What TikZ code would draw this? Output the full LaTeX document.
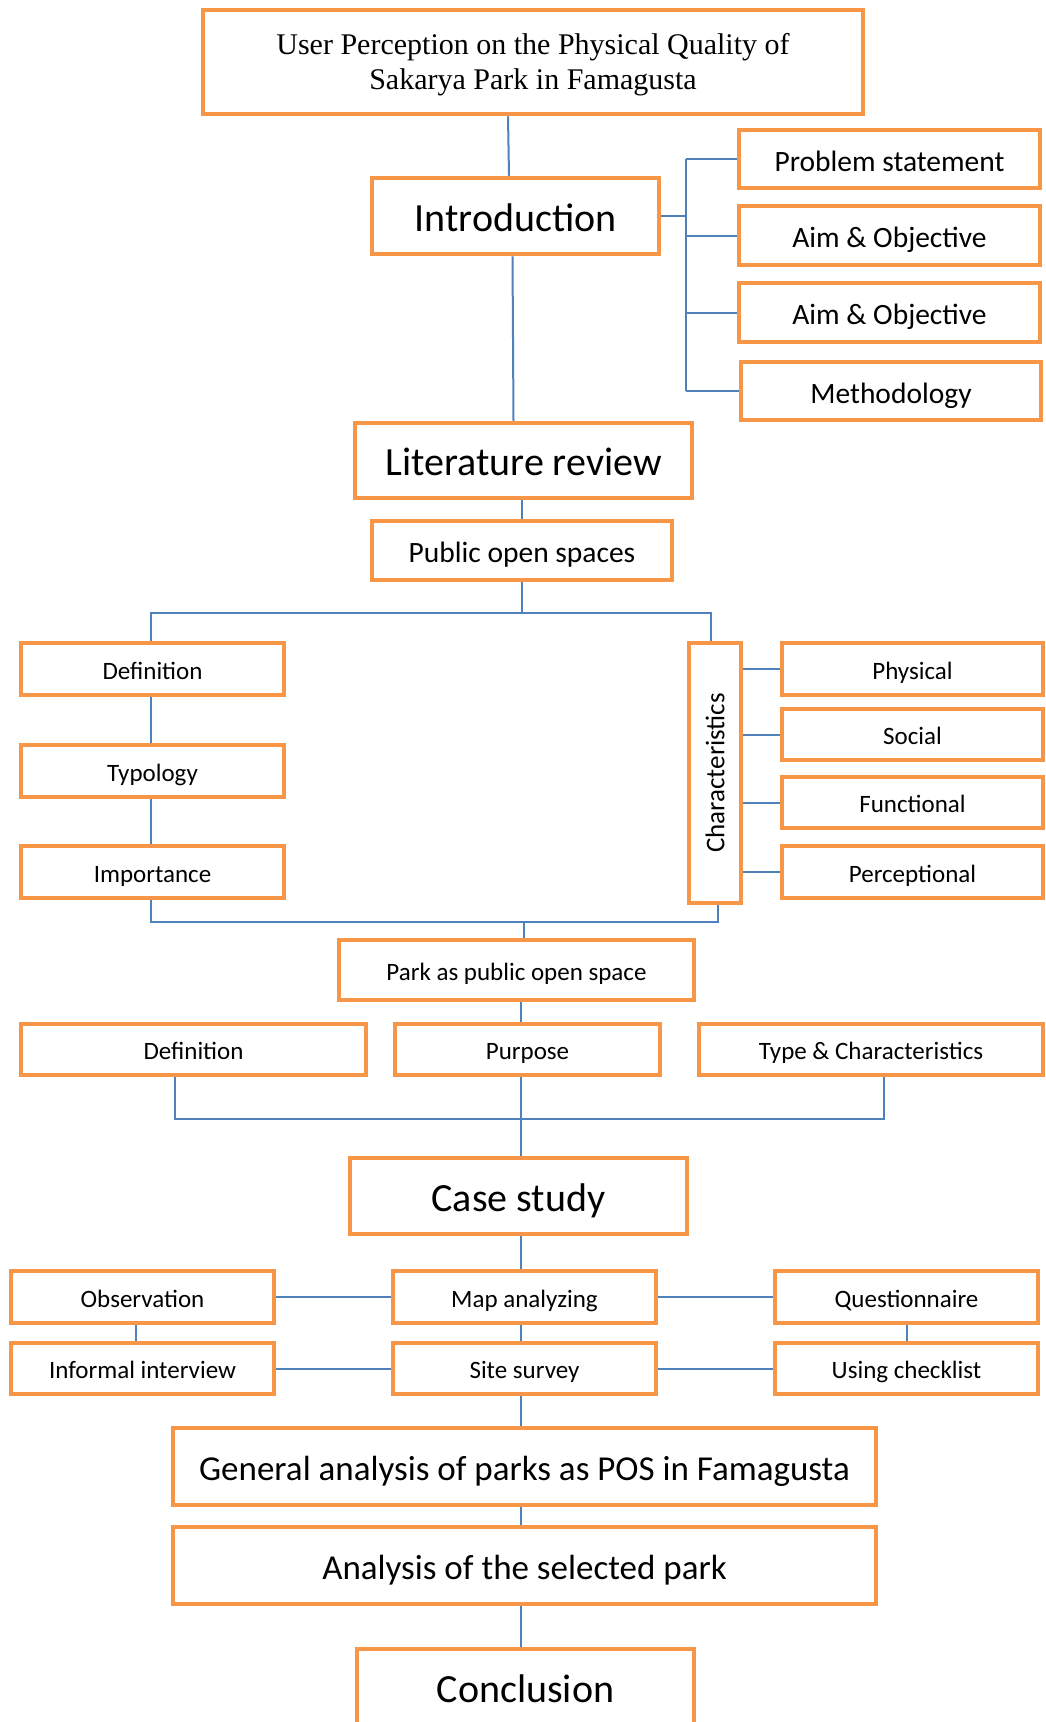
\documentclass[tikz,border=0pt]{standalone}
\usepackage{fontspec}
\setmainfont{Carlito}
\newfontfamily\serifrm{Liberation Serif}
\definecolor{boxorange}{HTML}{F79646}
\definecolor{linkblue}{HTML}{4F81BD}
\tikzset{
  box/.style={draw=boxorange, line width=4.5pt, fill=white, inner sep=0pt,
              align=center, rectangle, text depth=0pt},
  link/.style={draw=linkblue, line width=2pt},
  small/.style={text height=20.5pt, font=\fontsize{25}{30}\selectfont},
  medium/.style={text height=24pt, font=\fontsize{29.5}{35}\selectfont},
  mlarge/.style={text height=27.5pt, font=\fontsize{35}{42}\selectfont},
  large/.style={text height=30.5pt, font=\fontsize{40}{48}\selectfont},
}
\begin{document}
\begin{tikzpicture}[x=1pt,y=-1pt]
\useasboundingbox (0,0) rectangle (1045,1722);
\clip (0,0) rectangle (1045,1722);
\fill[white] (0,0) rectangle (1045,1722);

% title and introduction
\node[box, text depth=, minimum width=660, minimum height=104,
      font=\serifrm\fontsize{30}{35}\selectfont] (title) at (533,62)
  {\rule{0pt}{26pt}User Perception on the Physical Quality of\\Sakarya Park in Famagusta};
\node[box, large, minimum width=287, minimum height=76] (intro) at (515.5,216) {Introduction};
\node[box, medium, minimum width=301, minimum height=58] (prob) at (889.5,159) {Problem statement};
\node[box, medium, minimum width=301, minimum height=59] (aim1) at (889.5,235.5) {Aim \& Objective};
\node[box, medium, minimum width=301, minimum height=59] (aim2) at (889.5,312.5) {Aim \& Objective};
\node[box, medium, minimum width=300, minimum height=58] (meth) at (891,391) {Methodology};

% literature review
\node[box, large, minimum width=337, minimum height=75] (lit) at (523.5,460.5) {Literature review};
\node[box, medium, minimum width=300, minimum height=59] (pos) at (522,550.5) {Public open spaces};
\node[box, small, minimum width=263, minimum height=52] (def) at (152.5,669) {Definition};
\node[box, small, minimum width=263, minimum height=52] (typ) at (152.5,771) {Typology};
\node[box, small, minimum width=263, minimum height=52] (imp) at (152.5,872) {Importance};
\node[box, text depth=, font=\fontsize{27}{32}\selectfont, minimum width=52, minimum height=260] (char) at (715,773)
  {\rotatebox{90}{Characteristics}};
\node[box, small, minimum width=261, minimum height=52] (phys) at (912.5,669) {Physical};
\node[box, small, minimum width=261, minimum height=51] (soc) at (912.5,734.5) {Social};
\node[box, small, minimum width=261, minimum height=51] (func) at (912.5,802.5) {Functional};
\node[box, small, minimum width=261, minimum height=52] (perc) at (912.5,872) {Perceptional};

% parks
\node[box, small, minimum width=355, minimum height=60] (park) at (516.5,970) {Park as public open space};
\node[box, small, minimum width=345, minimum height=51] (def2) at (193.5,1049.5) {Definition};
\node[box, small, minimum width=265, minimum height=51] (purp) at (527.5,1049.5) {Purpose};
\node[box, small, minimum width=344, minimum height=51] (type) at (871,1049.5) {Type \& Characteristics};

% case study
\node[box, large, minimum width=337, minimum height=76] (case) at (518.5,1196) {Case study};
\node[box, small, minimum width=263, minimum height=52] (obs) at (142.5,1297) {Observation};
\node[box, small, minimum width=263, minimum height=52] (map) at (524.5,1297) {Map analyzing};
\node[box, small, minimum width=263, minimum height=52] (ques) at (906.5,1297) {Questionnaire};
\node[box, small, minimum width=263, minimum height=51] (inf) at (142.5,1368.5) {Informal interview};
\node[box, small, minimum width=263, minimum height=51] (site) at (524.5,1368.5) {Site survey};
\node[box, small, minimum width=263, minimum height=51] (chk) at (906.5,1368.5) {Using checklist};

% analysis and conclusion
\node[box, mlarge, minimum width=703, minimum height=77] (gen) at (524.5,1466.5) {General analysis of parks as POS in Famagusta};
\node[box, mlarge, minimum width=703, minimum height=77] (ana) at (524.5,1565.5) {Analysis of the selected park};
\node[box, large, minimum width=337, minimum height=77] (conc) at (525.5,1687.5) {Conclusion};

% junction points
\coordinate (ib) at (686,216);
\coordinate (pb) at (522,613);
\coordinate (bb) at (524,922);
\coordinate (cb) at (521,1119);
\coordinate (ax) at (521,0);

% connectors
\draw[link] ([xshift=-25pt]title.south) -- ([xshift=-6.5pt]intro.north);
\draw[link] ([xshift=-3pt]intro.south) -- ([xshift=-10pt]lit.north);
\draw[link] (intro.east) -- (ib);
\draw[link] (ib |- prob.west) -- (ib |- meth.west);
\draw[link] (ib |- prob.west) -- (prob.west);
\draw[link] (ib |- aim1.west) -- (aim1.west);
\draw[link] (ib |- aim2.west) -- (aim2.west);
\draw[link] (ib |- meth.west) -- (meth.west);

\draw[link] (pos.north |- lit.south) -- (pos.north);
\draw[link] (pos.south) -- (pb);
\draw[link] ([xshift=-1.5pt]def.north) -- ([xshift=-1.5pt]def.north |- pb)
  -- ([xshift=-4pt]char.north |- pb) -- ([xshift=-4pt]char.north);
\draw[link] ([xshift=-1.5pt]def.south) -- ([xshift=-1.5pt]typ.north);
\draw[link] ([xshift=-1.5pt]typ.south) -- ([xshift=-1.5pt]imp.north);
\draw[link] (char.east |- phys.west) -- (phys.west);
\draw[link] (char.east |- soc.west) -- (soc.west);
\draw[link] (char.east |- func.west) -- (func.west);
\draw[link] (char.east |- perc.west) -- (perc.west);
\draw[link] ([xshift=-1.5pt]imp.south) -- ([xshift=-1.5pt]imp.south |- bb)
  -- ([xshift=3pt]char.south |- bb) -- ([xshift=3pt]char.south);
\draw[link] (bb) -- (bb |- park.north);

\draw[link] (ax |- park.south) -- (ax |- purp.north);
\draw[link] ([xshift=-18.5pt]def2.south) -- ([xshift=-18.5pt]def2.south |- cb)
  -- ([xshift=13pt]type.south |- cb) -- ([xshift=13pt]type.south);
\draw[link] (ax |- purp.south) -- (ax |- case.north);

\draw[link] (ax |- case.south) -- (ax |- map.north);
\draw[link] (obs.east) -- (map.west);
\draw[link] (map.east) -- (ques.west);
\draw[link] (inf.east) -- (site.west);
\draw[link] (site.east) -- (chk.west);
\draw[link] ([xshift=-6.5pt]obs.south) -- ([xshift=-6.5pt]inf.north);
\draw[link] (ax |- map.south) -- (ax |- site.north);
\draw[link] (ques.south) -- (chk.north);

\draw[link] (ax |- site.south) -- (ax |- gen.north);
\draw[link] (ax |- gen.south) -- (ax |- ana.north);
\draw[link] (ax |- ana.south) -- (ax |- conc.north);
\end{tikzpicture}
\end{document}
